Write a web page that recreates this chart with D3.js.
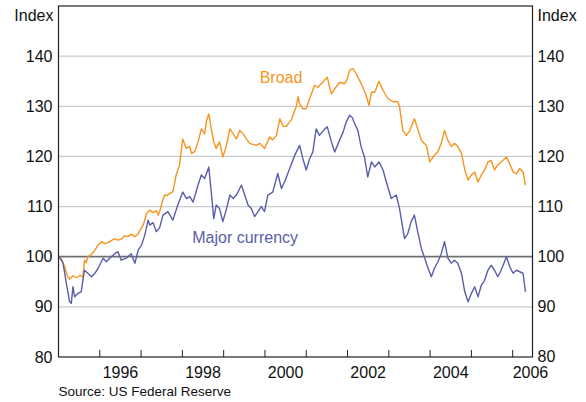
<!DOCTYPE html>
<html>
<head>
<meta charset="utf-8">
<script src="https://cdn.jsdelivr.net/npm/d3@7"></script>
<style>
  body { margin: 0; background: #fff; }
  text { font-family: "Liberation Sans", Arial, sans-serif; }
</style>
</head>
<body>
<div id="chart"></div>
<script>
// Chart data (decimal year, index)
const broad = [
  [1995.00,100],[1995.08,99.4],[1995.15,98],[1995.21,96.3],[1995.27,95.5],[1995.35,96.2],[1995.43,95.8],
  [1995.52,96.3],[1995.59,96],[1995.63,99.3],[1995.67,98.8],[1995.71,100],[1995.80,100.5],[1995.88,101.3],
  [1995.96,102.3],[1996.04,103],[1996.12,102.6],[1996.20,102.8],[1996.28,103.2],[1996.36,103.6],[1996.44,103.3],
  [1996.52,103.5],[1996.60,104.2],[1996.68,104],[1996.76,104.5],[1996.85,104],[1996.93,104.6],[1997.00,105.6],
  [1997.06,106.5],[1997.13,108.6],[1997.21,109.3],[1997.29,108.8],[1997.37,109.2],[1997.41,108.3],[1997.45,109],
  [1997.51,110.8],[1997.57,112.3],[1997.63,112.2],[1997.69,112.6],[1997.77,113],[1997.85,116.3],[1997.93,118.2],
  [1997.97,121],[1998.01,123.5],[1998.06,122.3],[1998.10,121.6],[1998.18,122],[1998.22,120.6],[1998.30,121],
  [1998.38,122.9],[1998.46,125.5],[1998.54,124.5],[1998.58,126.9],[1998.64,128.5],[1998.70,125.5],[1998.76,122.9],
  [1998.82,121.6],[1998.90,122.9],[1998.98,119.9],[1999.07,122.2],[1999.15,125.5],[1999.23,124.5],[1999.31,123.5],
  [1999.39,125.2],[1999.47,124.5],[1999.55,123.5],[1999.63,122.6],[1999.71,122.4],[1999.79,122.2],[1999.88,122.6],
  [1999.99,121.6],[2000.07,123],[2000.11,123.9],[2000.19,123.3],[2000.28,124.2],[2000.36,127.5],[2000.44,126],
  [2000.52,126],[2000.56,126.5],[2000.64,127.3],[2000.68,128.2],[2000.76,130],[2000.80,131.9],[2000.84,130.5],
  [2000.92,129.5],[2001.00,129.5],[2001.08,131.5],[2001.16,133.2],[2001.20,134.2],[2001.28,133.8],[2001.40,134.8],
  [2001.51,135.8],[2001.56,134],[2001.61,132.5],[2001.69,133.5],[2001.81,134.8],[2001.93,134.5],[2002.00,135.5],
  [2002.05,137.2],[2002.13,137.5],[2002.21,136.5],[2002.29,135.2],[2002.37,133.8],[2002.45,132.2],[2002.52,130.2],
  [2002.58,132.8],[2002.66,132.8],[2002.76,135],[2002.86,133.2],[2002.98,131.5],[2003.10,130.9],[2003.22,130.9],
  [2003.26,129.9],[2003.34,125.2],[2003.42,124.2],[2003.50,125],[2003.62,127.5],[2003.70,125.5],[2003.79,123.2],
  [2003.91,122.2],[2003.99,118.9],[2004.11,120.3],[2004.19,121],[2004.27,122.6],[2004.35,125.2],[2004.43,123.2],
  [2004.51,122],[2004.59,122.6],[2004.67,122],[2004.76,120.6],[2004.84,117.3],[2004.92,115.3],[2005.00,116.3],
  [2005.08,116.9],[2005.16,114.9],[2005.24,116.3],[2005.32,117.3],[2005.40,118.9],[2005.48,119.2],[2005.56,117.3],
  [2005.64,118.3],[2005.72,118.9],[2005.85,119.9],[2005.93,118.5],[2006.01,116.9],[2006.09,116.5],[2006.17,117.6],
  [2006.25,116.9],[2006.31,114.3]
];

const major = [
  [1995.00,100],[1995.03,99.8],[1995.11,98.7],[1995.19,94.7],[1995.27,91],[1995.31,90.7],[1995.35,94],
  [1995.39,92],[1995.47,92.7],[1995.55,93],[1995.59,95.3],[1995.63,97.3],[1995.71,96.7],[1995.80,96],
  [1995.88,96.7],[1995.96,97.7],[1996.08,99.7],[1996.16,99],[1996.24,99.7],[1996.36,100.6],[1996.44,101],
  [1996.52,99.3],[1996.64,99.7],[1996.76,100.6],[1996.85,98.7],[1996.93,101.3],[1997.01,102.3],[1997.09,104.3],
  [1997.17,107.3],[1997.21,106.3],[1997.29,106.8],[1997.37,105],[1997.45,105.8],[1997.53,108.3],[1997.65,109],
  [1997.77,107.3],[1997.89,110.3],[1998.01,112.9],[1998.10,111.6],[1998.18,112],[1998.26,110.9],[1998.38,114.3],
  [1998.46,116.3],[1998.54,115.6],[1998.64,117.9],[1998.70,112.9],[1998.76,107.6],[1998.82,110.3],[1998.90,109.6],
  [1998.98,107],[1999.07,109.6],[1999.15,112.3],[1999.23,111.6],[1999.31,112.3],[1999.43,114.3],[1999.51,112.3],
  [1999.59,110.3],[1999.67,109.6],[1999.75,108],[1999.83,109],[1999.91,110],[1999.99,109],[2000.07,112.3],
  [2000.19,112.9],[2000.31,116.6],[2000.40,113.6],[2000.48,115],[2000.60,117.6],[2000.72,120.2],[2000.84,122.2],
  [2000.92,119.5],[2001.00,117.3],[2001.08,119.5],[2001.16,120.9],[2001.24,125.5],[2001.32,124.2],[2001.45,125.5],
  [2001.51,125.9],[2001.61,122.9],[2001.69,120.9],[2001.81,123.3],[2001.89,124.8],[2001.97,126.9],[2002.05,128.2],
  [2002.11,127.8],[2002.17,126.6],[2002.25,125.2],[2002.33,121.9],[2002.41,119.9],[2002.49,115.9],[2002.58,118.9],
  [2002.66,117.9],[2002.76,118.9],[2002.86,117.3],[2002.94,114.9],[2003.06,111.6],[2003.18,112.3],[2003.26,109.6],
  [2003.38,103.6],[2003.46,104.6],[2003.54,107],[2003.62,108.3],[2003.70,105],[2003.79,101.6],[2003.87,99.7],
  [2003.95,97.7],[2004.03,96],[2004.11,97.8],[2004.19,99],[2004.27,100.6],[2004.35,103],[2004.43,99.7],
  [2004.51,98.7],[2004.59,99.3],[2004.67,98.7],[2004.76,96.7],[2004.84,93],[2004.92,91],[2005.00,92.7],
  [2005.08,94],[2005.16,92],[2005.24,94.3],[2005.32,95.3],[2005.40,97.3],[2005.48,98.3],[2005.56,97.3],
  [2005.64,96],[2005.72,97.3],[2005.85,100],[2005.93,98],[2006.01,96.7],[2006.09,97.3],[2006.17,97],
  [2006.25,96.7],[2006.31,93]
];

const yTicks = [80, 90, 100, 110, 120, 130, 140];
const yearTicks = [1996, 1997, 1998, 1999, 2000, 2001, 2002, 2003, 2004, 2005, 2006];
const yearLabels = [1996, 1998, 2000, 2002, 2004, 2006];

// Dimensions
const width = 586, height = 402;
const margin = { top: 6, right: 53.5, bottom: 45, left: 58.5 };
const plotW = width - margin.left - margin.right;
const plotH = height - margin.top - margin.bottom;

const orange = "#f7941d", blue = "#5a5ea8";

const svg = d3.select("#chart").append("svg")
    .attr("width", width)
    .attr("height", height);

const g = svg.append("g").attr("transform", `translate(${margin.left},${margin.top})`);

const x = d3.scaleLinear().domain([1995, 2006.48]).range([0, plotW]);
const y = d3.scaleLinear().domain([80, 150]).range([plotH, 0]);

// Gridlines
g.append("g").selectAll("line")
    .data(yTicks.filter(d => d !== 80))
    .join("line")
    .attr("x1", 0).attr("x2", plotW)
    .attr("y1", d => y(d)).attr("y2", d => y(d))
    .attr("stroke", d => d === 100 ? "#707070" : "#c9ccd0")
    .attr("stroke-width", d => d === 100 ? 1.8 : 1.3);

// Lines
const line = d3.line().x(d => x(d[0])).y(d => y(d[1]));

g.append("path").datum(broad)
    .attr("fill", "none").attr("stroke", orange).attr("stroke-width", 1.4)
    .attr("stroke-linejoin", "round")
    .attr("d", line);

g.append("path").datum(major)
    .attr("fill", "none").attr("stroke", blue).attr("stroke-width", 1.4)
    .attr("stroke-linejoin", "round")
    .attr("d", line);

// Frame
g.append("rect")
    .attr("width", plotW).attr("height", plotH)
    .attr("fill", "none").attr("stroke", "#222").attr("stroke-width", 1.2);

// Bottom ticks (inside)
g.append("g").selectAll("line")
    .data(yearTicks)
    .join("line")
    .attr("x1", d => x(d)).attr("x2", d => x(d))
    .attr("y1", plotH).attr("y2", plotH - 7)
    .attr("stroke", "#222").attr("stroke-width", 1);

// Year labels (centred on year, last one starts at its tick)
g.append("g").selectAll("text")
    .data(yearLabels)
    .join("text")
    .attr("x", d => d === 2006 ? x(d) : x(d + 0.5))
    .attr("y", plotH + 21)
    .attr("text-anchor", d => d === 2006 ? "start" : "middle")
    .attr("font-size", 16)
    .attr("fill", "#111")
    .text(d => d);

// Y labels, left and right
g.append("g").selectAll("text")
    .data(yTicks)
    .join("text")
    .attr("x", -6)
    .attr("y", d => y(d))
    .attr("dy", "0.35em")
    .attr("text-anchor", "end")
    .attr("font-size", 16)
    .attr("fill", "#111")
    .text(d => d);

g.append("g").selectAll("text")
    .data(yTicks)
    .join("text")
    .attr("x", plotW + 5)
    .attr("y", d => d === 80 ? y(d) - 1 : y(d))
    .attr("dy", "0.35em")
    .attr("text-anchor", "start")
    .attr("font-size", 16)
    .attr("fill", "#111")
    .text(d => d);

// Unit labels
svg.append("text").attr("x", margin.left - 5).attr("y", 21)
    .attr("text-anchor", "end").attr("font-size", 16).attr("fill", "#111").text("Index");
svg.append("text").attr("x", margin.left + plotW + 5).attr("y", 21)
    .attr("text-anchor", "start").attr("font-size", 16).attr("fill", "#111").text("Index");

// Series labels
g.append("text").attr("x", x(2000.39)).attr("y", y(134.7))
    .attr("text-anchor", "middle").attr("font-size", 16).attr("fill", orange).text("Broad");
g.append("text").attr("x", x(1999.52)).attr("y", y(102.7))
    .attr("text-anchor", "middle").attr("font-size", 16).attr("fill", blue).text("Major currency");

// Source
svg.append("text").attr("x", margin.left).attr("y", 396)
    .attr("font-size", 13.5).attr("fill", "#111").text("Source: US Federal Reserve");
</script>
</body>
</html>
